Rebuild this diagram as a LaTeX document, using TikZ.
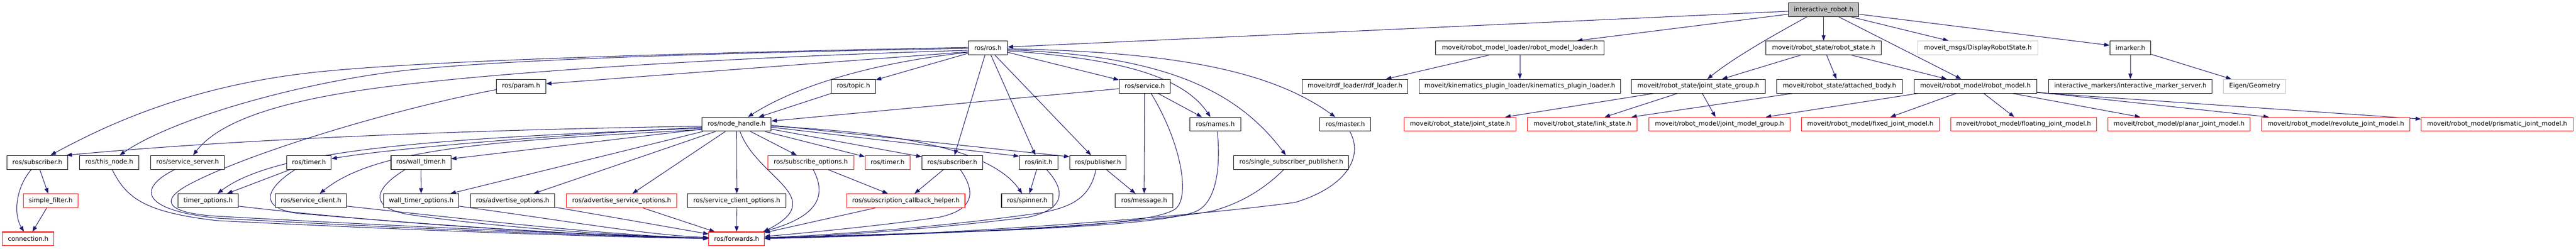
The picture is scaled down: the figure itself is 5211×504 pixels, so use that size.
\documentclass[tikz,border=0pt]{standalone}
\usepackage{fontspec}
\setmainfont{DejaVu Sans}
\usetikzlibrary{arrows.meta,backgrounds}
\definecolor{edgec}{HTML}{191970}
\definecolor{grayb}{HTML}{BFBFBF}
\definecolor{redb}{HTML}{FF0000}
\tikzset{
  bn/.style={draw=black, fill=white, line width=1.1pt, minimum height=28pt, inner sep=0pt, font=\fontsize{12.7}{15}\selectfont},
  rn/.style={bn, draw=redb},
  gn/.style={bn, draw=grayb},
  edge/.style={draw=edgec, line width=1.1pt, -{Triangle[length=11pt,width=8pt]}},
}
\begin{document}
\begin{tikzpicture}[x=1pt,y=-1pt]
\useasboundingbox (0,0) rectangle (5211,504);
% row 0
\node[bn, fill=grayb, minimum width=142pt] (ir) at (3689,19.8) {interactive\_robot.h};
% row 1
\node[bn, minimum width=79pt] (ros) at (1998.5,97) {ros/ros.h};
\node[bn, minimum width=341pt] (rml) at (3074.5,97) {moveit/robot\_model\_loader/robot\_model\_loader.h};
\node[bn, minimum width=234pt] (rs) at (3689,97) {moveit/robot\_state/robot\_state.h};
\node[gn, minimum width=242pt] (drs) at (4001,97) {moveit\_msgs/DisplayRobotState.h};
\node[bn, minimum width=83pt] (imk) at (4309.5,97) {imarker.h};
% row 2
\node[bn, minimum width=100pt] (param) at (1054,174.7) {ros/param.h};
\node[bn, minimum width=89pt] (topic) at (1726.5,174.7) {ros/topic.h};
\node[bn, minimum width=103pt] (service) at (2315.5,174.7) {ros/service.h};
\node[bn, minimum width=214pt] (rdf) at (2741,174.7) {moveit/rdf\_loader/rdf\_loader.h};
\node[bn, minimum width=407pt] (kpl) at (3074.5,174.7) {moveit/kinematics\_plugin\_loader/kinematics\_plugin\_loader.h};
\node[bn, minimum width=271pt] (jsg) at (3435.5,174.7) {moveit/robot\_state/joint\_state\_group.h};
\node[bn, minimum width=254pt] (ab) at (3721,174.7) {moveit/robot\_state/attached\_body.h};
\node[bn, minimum width=248pt] (rm) at (3996,174.7) {moveit/robot\_model/robot\_model.h};
\node[bn, minimum width=331pt] (ims) at (4309.5,174.7) {interactive\_markers/interactive\_marker\_server.h};
\node[gn, minimum width=126pt] (eig) at (4561,174.7) {Eigen/Geometry};
% row 3
\node[bn, minimum width=140pt] (nh) at (1490,251.7) {ros/node\_handle.h};
\node[bn, minimum width=103pt] (names) at (2458.5,251.7) {ros/names.h};
\node[bn, minimum width=103pt] (master) at (2721.5,251.7) {ros/master.h};
\node[rn, minimum width=227pt] (js) at (2953.5,251.7) {moveit/robot\_state/joint\_state.h};
\node[rn, minimum width=222pt] (ls) at (3201,251.7) {moveit/robot\_state/link\_state.h};
\node[rn, minimum width=285pt] (jmg) at (3478.5,251.7) {moveit/robot\_model/joint\_model\_group.h};
\node[rn, minimum width=279pt] (fjm) at (3783.5,251.7) {moveit/robot\_model/fixed\_joint\_model.h};
\node[rn, minimum width=295pt] (flj) at (4093.5,251.7) {moveit/robot\_model/floating\_joint\_model.h};
\node[rn, minimum width=288pt] (pjm) at (4408,251.7) {moveit/robot\_model/planar\_joint\_model.h};
\node[rn, minimum width=300pt] (rjm) at (4725,251.7) {moveit/robot\_model/revolute\_joint\_model.h};
\node[rn, minimum width=307pt] (prj) at (5051.5,251.7) {moveit/robot\_model/prismatic\_joint\_model.h};
% row 4
\node[bn, minimum width=123pt] (sub1) at (75.5,329) {ros/subscriber.h};
\node[bn, minimum width=120pt] (thisn) at (221,329) {ros/this\_node.h};
\node[bn, minimum width=149pt] (ss) at (379.5,329) {ros/service\_server.h};
\node[bn, minimum width=90pt] (timer1) at (625,329) {ros/timer.h};
\node[bn, minimum width=121pt] (wt) at (851.5,329) {ros/wall\_timer.h};
\node[rn, minimum width=174pt] (so) at (1640,329) {ros/subscribe\_options.h};
\node[rn, minimum width=91pt] (timer2) at (1795.5,329) {ros/timer.h};
\node[bn, minimum width=123pt] (sub2) at (1926.5,329) {ros/subscriber.h};
\node[bn, minimum width=78pt] (init) at (2101,329) {ros/init.h};
\node[bn, minimum width=114pt] (pub) at (2221,329) {ros/publisher.h};
\node[bn, minimum width=232pt] (ssp) at (2612,329) {ros/single\_subscriber\_publisher.h};
% row 5
\node[rn, minimum width=111pt] (sf) at (102.5,406.7) {simple\_filter.h};
\node[bn, minimum width=122pt] (tmo) at (421,406.7) {timer\_options.h};
\node[bn, minimum width=144pt] (sc) at (629,406.7) {ros/service\_client.h};
\node[bn, minimum width=152pt] (wto) at (852,406.7) {wall\_timer\_options.h};
\node[bn, minimum width=170pt] (ao) at (1037,406.7) {ros/advertise\_options.h};
\node[rn, minimum width=223pt] (aso) at (1257.5,406.7) {ros/advertise\_service\_options.h};
\node[bn, minimum width=199pt] (sco) at (1490.5,406.7) {ros/service\_client\_options.h};
\node[rn, minimum width=239pt] (sch) at (1832.5,406.7) {ros/subscription\_callback\_helper.h};
\node[bn, minimum width=104pt] (spin) at (2078,406.7) {ros/spinner.h};
\node[bn, minimum width=117pt] (msg) at (2314.5,406.7) {ros/message.h};
% row 6
\node[rn, minimum width=104pt] (conn) at (57,484) {connection.h};
\node[rn, minimum width=112pt] (fwd) at (1490,484) {ros/forwards.h};

\begin{scope}[on background layer]
\fill[white] (0,0) rectangle (5211,504);
% interactive_robot.h
\draw[edge] ([yshift=-3pt]ir.west) -- (ros);
\draw[edge] ([yshift=-9pt]ir.west) -- (rml);
\draw[edge] ([xshift=-34pt]ir.south) .. controls (3590,70) and (3510,115) .. (jsg);
\draw[edge] (ir) -- (rs);
\draw[edge] ([xshift=31pt]ir.south) -- (rm);
\draw[edge] ([xshift=56pt]ir.south) -- (drs);
\draw[edge] ([yshift=-9pt]ir.east) -- (imk);
% robot_state
\draw[edge] ([xshift=-46pt]rs.south) -- (jsg);
\draw[edge] ([xshift=6pt]rs.south) -- (ab);
\draw[edge] ([xshift=56pt]rs.south) -- (rm);
\draw[edge] ([xshift=-90pt]jsg.south) -- (js);
\draw[edge] ([xshift=-42pt]jsg.south) -- (ls);
\draw[edge] ([xshift=8pt]jsg.south) -- (jmg);
\draw[edge] ([xshift=-95pt]ab.south) -- (ls);
% robot_model
\draw[edge] ([xshift=8pt]rm.south west) -- (jmg);
\draw[edge] ([xshift=-39pt]rm.south) -- (fjm);
\draw[edge] ([xshift=17pt]rm.south) -- (flj);
\draw[edge] ([xshift=75pt]rm.south) -- (pjm);
\draw[edge] ([yshift=-12pt]rm.east) -- (rjm);
\draw[edge] ([yshift=-13pt]rm.east) -- (prj);
% loader, imarker
\draw[edge] ([xshift=-62pt]rml.south) -- (rdf);
\draw[edge] (rml) -- (kpl);
\draw[edge] (imk) -- (ims);
\draw[edge] ([yshift=-13pt]imk.east) -- (eig);
% ros.h
\draw[edge] ([yshift=-11pt]ros.west) -- (topic);
\draw[edge] ([yshift=-9pt]ros.west) .. controls (1760,128) and (1610,175) .. (nh);
\draw[edge] ([yshift=-8pt]ros.west) -- ([yshift=5pt]param.east);
\draw[edge] ([yshift=1pt]ros.west) .. controls (1500,105) and (900,120) .. (650,145) .. controls (400,170) and (230,245) .. (sub1);
\draw[edge] ([yshift=-1pt]ros.west) .. controls (1500,106) and (1000,120) .. (800,145) .. controls (600,170) and (350,240) .. (thisn);
\draw[edge] ([yshift=-5pt]ros.west) .. controls (1500,115) and (1000,145) .. (750,180) .. controls (550,208) and (440,250) .. (ss);
\draw[edge] ([xshift=-6pt]ros.south) -- (sub2);
\draw[edge] ([xshift=6pt]ros.south) -- (init);
\draw[edge] ([xshift=14pt]ros.south) -- (pub);
\draw[edge] ([yshift=-9pt]ros.east) -- (service);
\draw[edge] ([yshift=-6pt]ros.east) .. controls (2250,118) and (2390,150) .. (names);
\draw[edge] ([yshift=-4pt]ros.east) .. controls (2350,112) and (2500,180) .. (ssp);
\draw[edge] ([yshift=-2pt]ros.east) .. controls (2400,105) and (2580,150) .. (master);
% into node_handle
\draw[edge] (topic.south west) -- (nh);
\draw[edge] ([yshift=-5pt]service.west) -- (nh);
% node_handle.h
\draw[edge] ([yshift=-4pt]nh.west) .. controls (1000,262) and (500,280) .. ([xshift=-3pt]sub1.north east);
\draw[edge] ([yshift=-6pt]nh.west) .. controls (1100,275) and (800,300) .. (timer1);
\draw[edge] ([yshift=-8pt]nh.west) .. controls (900,280) and (560,300) .. (tmo);
\draw[edge] ([yshift=-11pt]nh.west) .. controls (1000,285) and (760,300) .. (sc);
\draw[edge] ([yshift=-10pt]nh.west) -- (wt);
\draw[edge] ([xshift=3pt]nh.south west) -- (wto);
\draw[edge] ([xshift=28pt]nh.south west) -- (ao);
\draw[edge] ([xshift=48pt]nh.south west) -- (aso);
\draw[edge] (nh) -- (sco);
\draw[edge] ([xshift=7pt]nh.south) .. controls (1530,360) and (1680,400) .. ([xshift=-2pt]fwd.north east);
\draw[edge] ([xshift=28pt]nh.south) -- (so);
\draw[edge] ([xshift=57pt]nh.south) -- (timer2);
\draw[edge] ([yshift=-10pt]nh.east) -- (sub2);
\draw[edge] ([yshift=-6pt]nh.east) -- ([yshift=-2pt]init.north west);
\draw[edge] ([yshift=-4pt]nh.east) .. controls (1850,270) and (2010,310) .. (spin);
\draw[edge] ([yshift=-2pt]nh.east) -- ([yshift=-3pt]pub.north west);
% row 4/5 short edges
\draw[edge] ([xshift=-38pt]timer1.south) -- (tmo);
\draw[edge] (wt) -- (wto);
\draw[edge] ([xshift=35pt]so.south) -- (sch);
\draw[edge] ([xshift=-18pt]sub2.south) -- (sch);
\draw[edge] ([xshift=-4pt]init.south) -- (spin);
\draw[edge] ([xshift=17pt]pub.south) -- (msg);
\draw[edge] (service) -- (msg);
\draw[edge] ([xshift=27pt]service.south) -- (names);
\draw[edge] ([xshift=5pt]sub1.south) -- (sf);
\draw[edge] ([xshift=-12pt]sub1.south) .. controls (35,375) and (25,430) .. (conn);
\draw[edge] ([xshift=-8pt]sf.south) -- (conn);
% into forwards.h
\draw[edge] ([xshift=6pt]thisn.south) .. controls (255,400) and (290,430) .. (440,447) .. controls (800,465) and (1200,480) .. (fwd);
\draw[edge] ([xshift=-26pt]ss.south) .. controls (280,380) and (280,425) .. (440,442) .. controls (800,462) and (1200,478) .. (fwd);
\draw[edge] ([yshift=-7pt]param.west) .. controls (800,220) and (500,310) .. (380,375) .. controls (320,408) and (340,432) .. (440,438) .. controls (800,458) and (1200,476) .. (fwd);
\draw[edge] ([xshift=-28pt]timer1.south) .. controls (540,380) and (520,420) .. (600,432) .. controls (900,458) and (1200,478) .. (fwd);
\draw[edge] ([xshift=-32pt]wt.south) .. controls (760,380) and (740,420) .. (830,435) .. controls (1000,460) and (1250,478) .. (fwd);
\draw[edge] ([yshift=-11pt]tmo.east) .. controls (800,455) and (1200,478) .. (fwd);
\draw[edge] ([yshift=-11pt]sc.east) .. controls (1000,450) and (1250,478) .. (fwd);
\draw[edge] ([yshift=-11pt]wto.east) .. controls (1150,448) and (1300,475) .. (fwd);
\draw[edge] ([yshift=-13pt]ao.east) -- (fwd);
\draw[edge] ([xshift=43pt]aso.south) -- (fwd);
\draw[edge] (sco) -- (fwd);
\draw[edge] ([xshift=5pt]so.south) .. controls (1675,400) and (1650,440) .. (fwd);
\draw[edge] ([xshift=-62pt]sch.south) -- (fwd);
\draw[edge] ([xshift=16pt]sub2.south) .. controls (1975,390) and (1970,425) .. (1900,440) .. controls (1800,455) and (1650,470) .. (fwd);
\draw[edge] ([xshift=16pt]init.south) .. controls (2160,390) and (2150,425) .. (2080,440) .. controls (1900,462) and (1700,478) .. (fwd);
\draw[edge] ([xshift=-4pt]pub.south) .. controls (2205,400) and (2170,420) .. (2100,432) .. controls (1900,460) and (1700,475) .. (fwd);
\draw[edge] ([xshift=13pt]service.south) .. controls (2390,290) and (2410,405) .. (2375,425) .. controls (2305,465) and (1900,470) .. (fwd);
\draw[edge] ([xshift=4pt]names.south) .. controls (2470,340) and (2460,410) .. (2420,428) .. controls (2340,462) and (1900,472) .. (fwd);
\draw[edge] ([xshift=-15pt]ssp.south) .. controls (2550,390) and (2500,415) .. (2450,428) .. controls (2300,455) and (1900,476) .. (fwd);
\draw[edge] ([xshift=9pt]master.south) .. controls (2760,320) and (2720,380) .. (2620,410) .. controls (2400,440) and (1900,478) .. (fwd);
\end{scope}
\end{tikzpicture}
\end{document}
